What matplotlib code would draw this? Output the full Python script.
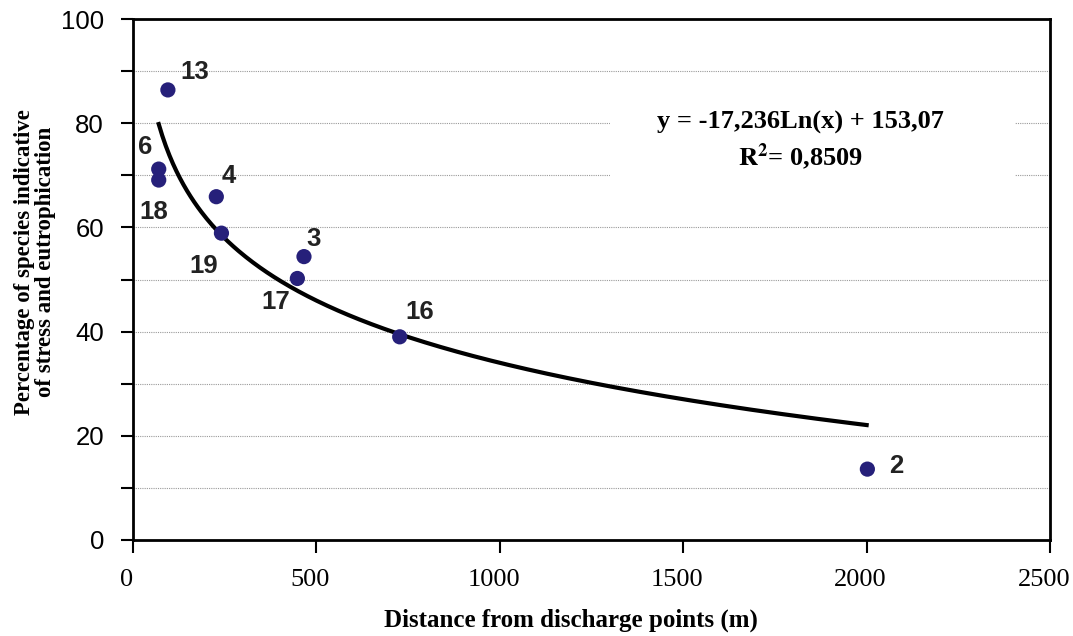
import numpy as np
import matplotlib
matplotlib.use("Agg")
import matplotlib.pyplot as plt
import matplotlib.transforms as mtransforms
from matplotlib.patches import Rectangle

plt.rcParams["mathtext.fontset"] = "stix"

# sampling stations: distance from discharge (m) vs % stress/eutrophication species
stations = ["13", "6", "18", "4", "19", "3", "17", "16", "2"]
distance = [95, 70, 70, 227, 241, 466, 448, 727, 2002]
percent = [86.4, 71.2, 69.1, 65.9, 58.9, 54.4, 50.2, 39.0, 13.6]

# label offsets in points (dx, dy), text anchored left/center
label_offsets = [(9, 13), (-15, 16), (-14, -23), (4, 15), (-23, -24),
                 (2, 13), (-26, -17), (4, 18), (16, 2)]

# log trendline as printed on the chart
fit_a = -17.236
fit_b = 153.07
fit_x_range = (70, 2000)

MARKER_COLOR = "#26207a"
SANS = "Liberation Sans"
SERIF = "Liberation Serif"

fig = plt.figure(figsize=(10.73, 6.36), dpi=100)
ax = fig.add_axes([0.124, 0.151, 0.8546, 0.819])

xs = np.linspace(fit_x_range[0], fit_x_range[1], 400)
ax.plot(xs, fit_a * np.log(xs) + fit_b, color="black", lw=3, zorder=3)

ax.scatter(distance, percent, s=120, color=MARKER_COLOR, zorder=4, edgecolors="none")
for lab, x, y, (dx, dy) in zip(stations, distance, percent, label_offsets):
    ax.annotate(lab, (x, y), xytext=(dx, dy), textcoords="offset points",
                fontsize=18.5, fontweight="bold", family=SANS, color="#222222",
                ha="left", va="center")

ax.set_xlim(0, 2500)
ax.set_ylim(0, 100)
ax.set_xticks(np.arange(0, 2501, 500))
ax.set_yticks(np.arange(0, 101, 20))
ax.set_yticks(np.arange(10, 100, 20), minor=True)
ax.yaxis.grid(True, which="both", ls=(0, (1, 1)), color="#9a9a9a", lw=0.8)
ax.set_axisbelow(True)

ax.tick_params(axis="y", which="both", direction="out", length=9, width=1.5,
               labelsize=18.5, pad=12)
ax.tick_params(axis="x", which="both", direction="out", length=9, width=1.5,
               labelsize=19, pad=12)
for t in ax.get_yticklabels():
    t.set_family(SANS)
# x labels sit a little left of their ticks in the original
shift = mtransforms.ScaledTranslation(-6 / 100, 0, fig.dpi_scale_trans)
for t in ax.get_xticklabels():
    t.set_family(SERIF)
    t.set_transform(t.get_transform() + shift)
for s in ax.spines.values():
    s.set_linewidth(2)

# white box behind the equation
ax.add_patch(Rectangle((1300, 66), 1105, 19, facecolor="white", edgecolor="none", zorder=2))
ax.text(1820, 80.2, "y = -17,236Ln(x) + 153,07", ha="center", va="center",
        fontsize=19, fontweight="bold", family=SERIF, zorder=5)
ax.text(1820, 73.4, r"$\mathbf{R^2}$= 0,8509", ha="center", va="center",
        fontsize=19, fontweight="bold", family=SERIF, zorder=5)

ax.set_xlabel("Distance from discharge points (m)", fontsize=18, fontweight="bold",
              family=SERIF, va="center")
ax.xaxis.set_label_coords(0.478, -0.154)
ax.set_ylabel("Percentage of species indicative\nof stress and eutrophication",
              fontsize=16.5, fontweight="bold", family=SERIF, linespacing=1.05,
              va="center")
ax.yaxis.set_label_coords(-0.107, 0.534)

fig.savefig("out.png", dpi=100)
